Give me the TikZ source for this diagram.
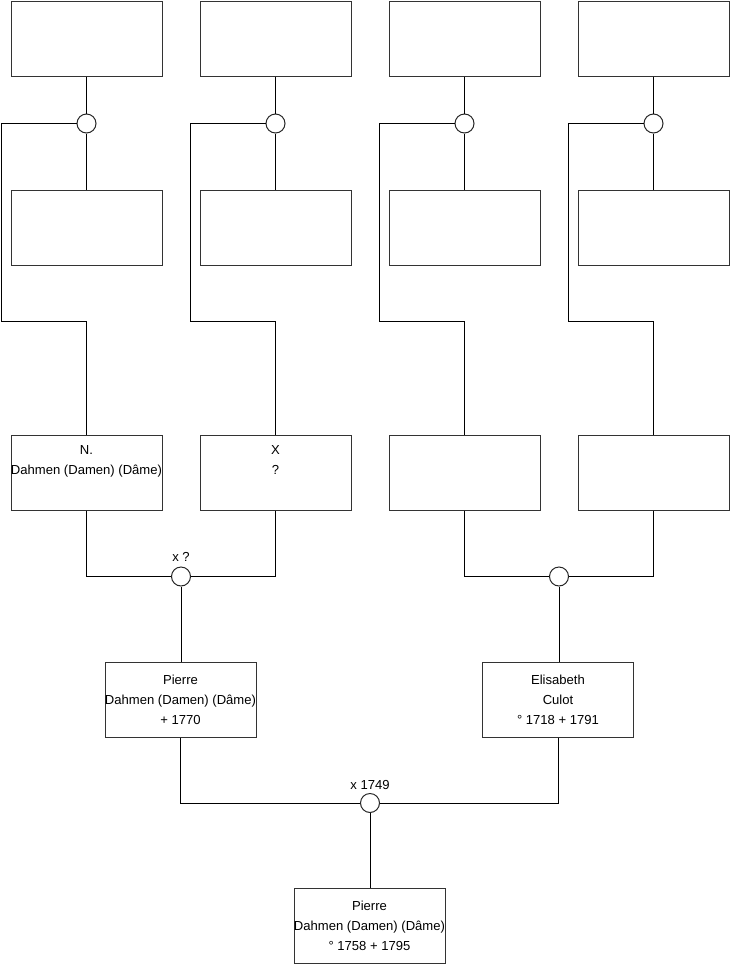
\documentclass[tikz,border=0pt]{standalone}
\usepackage{fontspec}
\setmainfont{Liberation Sans}
\begin{document}
\begin{tikzpicture}[x=0.75pt,y=-0.75pt,
  pbox/.style={draw=black!80, line width=0.75pt, minimum width=113.25pt, minimum height=56.25pt, inner sep=0pt, fill=white},
  ptext/.style={inner sep=0pt, align=center, font=\fontsize{9.8}{15}\selectfont},
  ring/.style={draw=black!85, circle, minimum size=14.25pt, inner sep=0pt, fill=white, line width=0.75pt},
  conn/.style={draw=black, line width=0.75pt},
  lbl/.style={font=\fontsize{9.8}{12}\selectfont, inner sep=0pt}]
\useasboundingbox (0,0) rectangle (740,975);
% top row
\foreach \n/\x/\lx in {a/86.5/1, b/275.5/190, c/464.5/379, d/653.5/568}{
  \node[pbox] (t\n) at (\x,38.5) {};
  \node[pbox] (m\n) at (\x,227.5) {};
  \coordinate (k\n) at (\lx,321.5);
}
% row 3
\node[pbox] (ra) at (86.5,472.5) {};
\node[ptext] (xa) at (ra.center) {N.\\Dahmen (Damen) (Dâme)\\\strut};
\node[pbox] (rb) at (275.5,472.5) {};
\node[ptext] (xb) at (rb.center) {X\\?\\\strut};
\node[pbox] (rc) at (464.5,472.5) {};
\node[pbox] (rd) at (653.5,472.5) {};
% circles top
\foreach \n/\x in {a/86.5, b/275.5, c/464.5, d/653.5}{
  \node[ring] (c\n) at (\x,123.5) {};
  \draw[conn] (t\n.south) -- (c\n.north);
  \draw[conn] (c\n.south) -- (m\n.north);
  \draw[conn] (c\n.west) -| (k\n) -| (r\n.north);
}
% row 4
\node[pbox] (pp) at (180.5,699.5) {};
\node[ptext] (xp) at (pp.center) {Pierre\\Dahmen (Damen) (Dâme)\\+ 1770};
\node[pbox] (pe) at (558,699.5) {};
\node[ptext] (xe) at (pe.center) {Elisabeth\\Culot\\° 1718 + 1791};
\node[ring] (cab) at (181,576.5) {};
\node[ring] (ccd) at (559,576.5) {};
\node[lbl] (lab) at (181,557) {x ?};
\draw[conn] (ra.south) |- (cab.west);
\draw[conn] (rb.south) |- (cab.east);
\draw[conn] (cab.south) -- (cab.south |- pp.north);
\draw[conn] (rc.south) |- (ccd.west);
\draw[conn] (rd.south) |- (ccd.east);
\draw[conn] (ccd.south) -- (ccd.south |- pe.north);
% bottom
\node[pbox] (pb) at (369.5,925.5) {};
\node[ptext] (xbm) at (pb.center) {Pierre\\Dahmen (Damen) (Dâme)\\° 1758 + 1795};
\node[ring] (cm) at (370,803) {};
\node[lbl] (lm) at (370,785) {x 1749};
\draw[conn] (pp.south) |- (cm.west);
\draw[conn] (pe.south) |- (cm.east);
\draw[conn] (cm.south) -- (cm.south |- pb.north);
\end{tikzpicture}
\end{document}
